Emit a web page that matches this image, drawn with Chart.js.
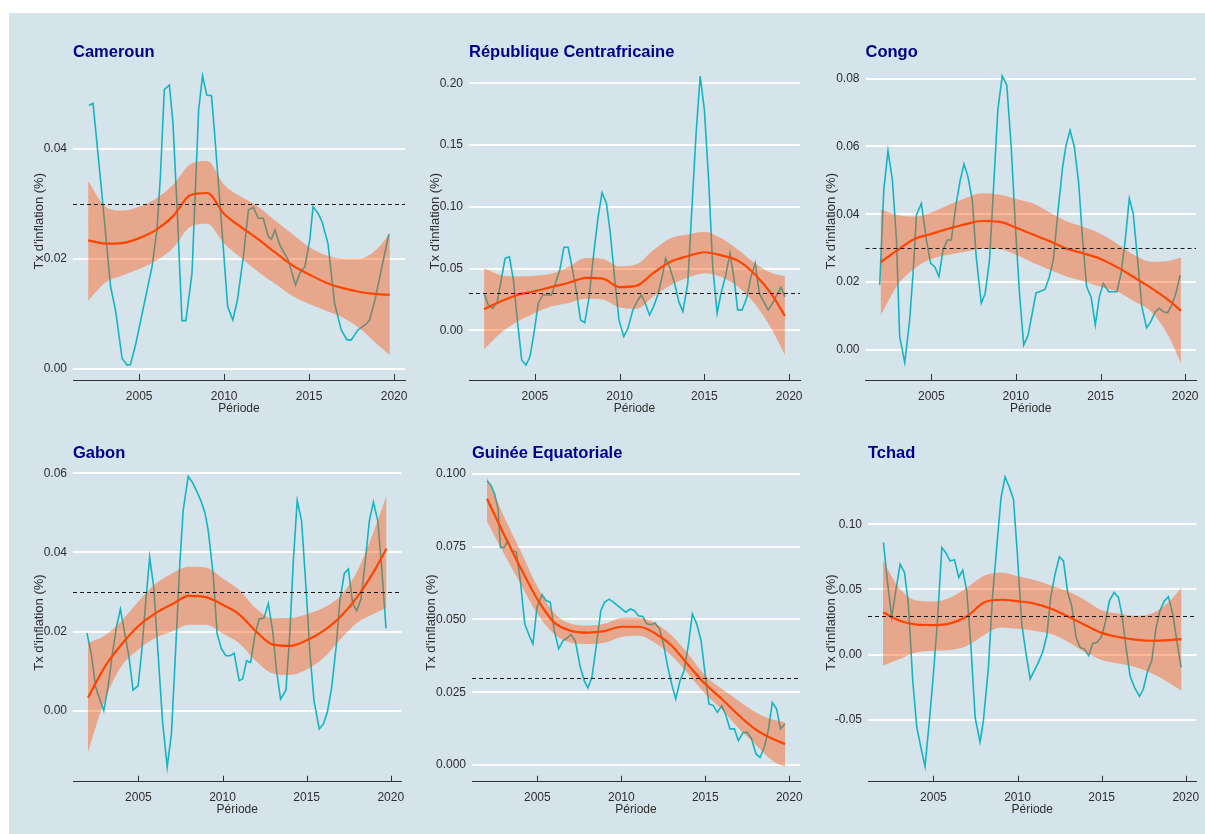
<!DOCTYPE html>
<html lang="fr">
<head>
<meta charset="utf-8">
<title>Taux d'inflation - CEMAC</title>
<script src="https://cdn.jsdelivr.net/npm/chart.js@4.4.1/dist/chart.umd.min.js"></script>
<style>
  html, body { margin: 0; padding: 0; background: #fff; overflow: hidden; width: 1205px; height: 834px; }
  #fond { position: absolute; left: 9px; top: 13px; width: 1196px; height: 821px; background: #d5e3ea; }
  canvas { position: absolute; }
</style>
</head>
<body>
<div id="fond"></div>
<canvas id="c1"></canvas>
<canvas id="c2"></canvas>
<canvas id="c3"></canvas>
<canvas id="c4"></canvas>
<canvas id="c5"></canvas>
<canvas id="c6"></canvas>
<script>
// --- données ---
const titres = ['Cameroun', 'République Centrafricaine', 'Congo', 'Gabon', 'Guinée Equatoriale', 'Tchad'];
const seuil = 0.03;
const xTicks = [2005, 2010, 2015, 2020];

// grille de la courbe lissée (loess) et de son intervalle
const annees = [2002, 2003, 2004, 2005, 2006, 2007, 2008, 2009, 2010, 2011, 2012, 2013, 2014, 2015, 2016, 2017, 2018, 2019, 2019.75];

// Cameroun
const cmrObs = [[2002.05,0.0479],[2002.29,0.0483],[2002.73,0.0344],[2003.32,0.0150],[2003.61,0.0107],[2004.00,0.0019],[2004.30,0.0007],[2004.49,0.0008],[2004.79,0.0044],[2005.47,0.0144],[2005.76,0.0186],[2006.05,0.0253],[2006.25,0.0350],[2006.48,0.0508],[2006.78,0.0516],[2006.99,0.0447],[2007.23,0.0295],[2007.52,0.0088],[2007.75,0.0088],[2008.11,0.0174],[2008.50,0.0471],[2008.73,0.0533],[2008.98,0.0498],[2009.26,0.0497],[2009.47,0.0416],[2009.77,0.0295],[2010.21,0.0113],[2010.51,0.0089],[2010.78,0.0125],[2011.13,0.0204],[2011.43,0.0289],[2011.72,0.0294],[2012.01,0.0274],[2012.30,0.0274],[2012.60,0.0241],[2012.79,0.0236],[2012.99,0.0253],[2013.28,0.0225],[2013.77,0.0198],[2014.20,0.0153],[2014.45,0.0174],[2014.75,0.0186],[2015.04,0.0235],[2015.23,0.0295],[2015.53,0.0283],[2015.78,0.0266],[2016.11,0.0228],[2016.50,0.0119],[2016.89,0.0071],[2017.23,0.0053],[2017.48,0.0053],[2017.87,0.0071],[2018.36,0.0082],[2018.55,0.0089],[2018.85,0.0122],[2019.24,0.0180],[2019.69,0.0245]];
const cmrFit = [0.0234,0.0228,0.0229,0.0238,0.0253,0.0278,0.0316,0.0320,0.0282,0.0258,0.0236,0.0212,0.0189,0.0172,0.0157,0.0147,0.0140,0.0136,0.0135];
const cmrHi  = [0.0342,0.0296,0.0288,0.0295,0.0310,0.0335,0.0372,0.0378,0.0335,0.0313,0.0295,0.0270,0.0246,0.0222,0.0207,0.0201,0.0201,0.0218,0.0247];
const cmrLo  = [0.0124,0.0157,0.0170,0.0182,0.0197,0.0220,0.0258,0.0264,0.0228,0.0202,0.0177,0.0155,0.0133,0.0118,0.0106,0.0093,0.0073,0.0045,0.0025];
const cmrYTicks = ['0.00', '0.02', '0.04'];

// République Centrafricaine
const rcaObs = [[2002.0,0.0300],[2002.25,0.0205],[2002.51,0.0178],[2002.78,0.0232],[2003.24,0.0583],[2003.49,0.0596],[2003.73,0.0408],[2003.96,0.0084],[2004.22,-0.0240],[2004.47,-0.0281],[2004.71,-0.0213],[2004.94,-0.0024],[2005.20,0.0219],[2005.45,0.0286],[2005.69,0.0286],[2005.98,0.0286],[2006.27,0.0408],[2006.47,0.0489],[2006.71,0.0672],[2006.96,0.0672],[2007.22,0.0489],[2007.45,0.0313],[2007.69,0.0084],[2007.94,0.0062],[2008.20,0.0273],[2008.47,0.0623],[2008.73,0.0920],[2008.96,0.1115],[2009.22,0.1028],[2009.45,0.0785],[2009.71,0.0408],[2009.96,0.0084],[2010.24,-0.0051],[2010.49,0.0016],[2010.78,0.0165],[2011.02,0.0232],[2011.27,0.0286],[2011.51,0.0219],[2011.76,0.0124],[2012.00,0.0192],[2012.25,0.0286],[2012.55,0.0462],[2012.71,0.0583],[2012.94,0.0516],[2013.24,0.0381],[2013.49,0.0232],[2013.73,0.0151],[2014.02,0.0381],[2014.31,0.1109],[2014.51,0.1595],[2014.75,0.2059],[2015.00,0.1784],[2015.25,0.1217],[2015.49,0.0516],[2015.75,0.0138],[2015.98,0.0300],[2016.24,0.0435],[2016.51,0.0623],[2016.76,0.0408],[2016.96,0.0165],[2017.22,0.0165],[2017.49,0.0259],[2017.75,0.0435],[2018.00,0.0543],[2018.24,0.0300],[2018.49,0.0232],[2018.76,0.0165],[2019.02,0.0219],[2019.27,0.0286],[2019.51,0.0348],[2019.75,0.0273]];
const rcaFit = [0.0170,0.0235,0.0288,0.0316,0.0352,0.0385,0.0425,0.0418,0.0350,0.0362,0.0465,0.0555,0.0600,0.0632,0.0607,0.0562,0.0450,0.0284,0.0116];
const rcaHi  = [0.0502,0.0446,0.0436,0.0441,0.0460,0.0515,0.0585,0.0578,0.0518,0.0535,0.0650,0.0745,0.0775,0.0798,0.0745,0.0650,0.0540,0.0462,0.0440];
const rcaLo  = [-0.0154,-0.0020,0.0073,0.0141,0.0194,0.0222,0.0256,0.0250,0.0185,0.0175,0.0275,0.0365,0.0425,0.0462,0.0432,0.0350,0.0210,0.0000,-0.0200];
const rcaYTicks = ['0.00', '0.05', '0.10', '0.15', '0.20'];

// Congo
const cogObs = [[2001.95,0.0191],[2002.19,0.0471],[2002.44,0.0587],[2002.70,0.0501],[2002.94,0.0324],[2003.13,0.0038],[2003.43,-0.0038],[2003.72,0.0088],[2003.92,0.0225],[2004.12,0.0398],[2004.41,0.0432],[2004.71,0.0324],[2004.96,0.0255],[2005.20,0.0245],[2005.45,0.0216],[2005.69,0.0294],[2005.94,0.0324],[2006.18,0.0324],[2006.47,0.0432],[2006.71,0.0501],[2006.93,0.0548],[2007.16,0.0511],[2007.42,0.0442],[2007.65,0.0275],[2007.95,0.0137],[2008.18,0.0166],[2008.44,0.0265],[2008.68,0.0481],[2008.93,0.0708],[2009.19,0.0808],[2009.46,0.0781],[2009.72,0.0599],[2009.97,0.0363],[2010.21,0.0166],[2010.46,0.0014],[2010.72,0.0043],[2010.96,0.0107],[2011.19,0.0168],[2011.49,0.0173],[2011.72,0.0178],[2011.98,0.0216],[2012.21,0.0265],[2012.47,0.0402],[2012.76,0.0540],[2012.96,0.0604],[2013.20,0.0648],[2013.45,0.0599],[2013.71,0.0491],[2013.94,0.0324],[2014.18,0.0186],[2014.44,0.0156],[2014.69,0.0073],[2014.93,0.0156],[2015.16,0.0196],[2015.48,0.0171],[2015.71,0.0171],[2015.97,0.0171],[2016.21,0.0225],[2016.46,0.0324],[2016.70,0.0447],[2016.93,0.0402],[2017.19,0.0265],[2017.44,0.0127],[2017.72,0.0065],[2017.97,0.0083],[2018.23,0.0112],[2018.47,0.0122],[2018.72,0.0112],[2018.96,0.0109],[2019.21,0.0132],[2019.45,0.0166],[2019.70,0.0220]];
const cogFit = [0.0258,0.0294,0.0327,0.0342,0.0357,0.0370,0.0380,0.0378,0.0360,0.0340,0.0320,0.0298,0.0284,0.0268,0.0243,0.0213,0.0182,0.0147,0.0115];
const cogHi  = [0.0414,0.0398,0.0393,0.0405,0.0427,0.0447,0.0462,0.0458,0.0445,0.0432,0.0405,0.0379,0.0362,0.0342,0.0312,0.0279,0.0260,0.0262,0.0272];
const cogLo  = [0.0100,0.0190,0.0240,0.0268,0.0280,0.0289,0.0298,0.0297,0.0280,0.0257,0.0236,0.0216,0.0202,0.0186,0.0171,0.0142,0.0112,0.0042,-0.0040];
const cogYTicks = ['0.00', '0.02', '0.04', '0.06', '0.08'];

// Gabon
const gabObs = [[2001.94,0.0196],[2002.20,0.0143],[2002.46,0.0059],[2002.70,0.0029],[2002.94,0.0000],[2003.19,0.0059],[2003.45,0.0143],[2003.69,0.0211],[2003.93,0.0257],[2004.19,0.0194],[2004.44,0.0135],[2004.68,0.0052],[2004.98,0.0063],[2005.18,0.0143],[2005.44,0.0278],[2005.67,0.0388],[2005.91,0.0312],[2006.17,0.0143],[2006.43,-0.0025],[2006.71,-0.0142],[2006.96,-0.0059],[2007.22,0.0160],[2007.46,0.0371],[2007.66,0.0506],[2007.96,0.0592],[2008.21,0.0577],[2008.45,0.0556],[2008.71,0.0531],[2008.95,0.0501],[2009.15,0.0455],[2009.44,0.0345],[2009.68,0.0194],[2009.94,0.0156],[2010.20,0.0139],[2010.44,0.0139],[2010.69,0.0145],[2010.99,0.0076],[2011.19,0.0080],[2011.43,0.0126],[2011.67,0.0122],[2011.92,0.0190],[2012.18,0.0232],[2012.46,0.0234],[2012.72,0.0271],[2012.98,0.0202],[2013.21,0.0101],[2013.45,0.0029],[2013.77,0.0052],[2014.01,0.0202],[2014.21,0.0379],[2014.44,0.0531],[2014.70,0.0480],[2014.96,0.0312],[2015.20,0.0143],[2015.44,0.0025],[2015.75,-0.0046],[2015.99,-0.0034],[2016.23,-0.0004],[2016.49,0.0059],[2016.75,0.0160],[2016.98,0.0278],[2017.24,0.0347],[2017.48,0.0358],[2017.74,0.0270],[2017.98,0.0253],[2018.23,0.0282],[2018.47,0.0371],[2018.73,0.0480],[2018.97,0.0527],[2019.23,0.0480],[2019.46,0.0362],[2019.72,0.0208]];
const gabFit = [0.0033,0.0111,0.0168,0.0214,0.0246,0.0269,0.0290,0.0287,0.0268,0.0243,0.0200,0.0167,0.0164,0.0178,0.0202,0.0237,0.0287,0.0352,0.0410];
const gabHi  = [0.0171,0.0190,0.0227,0.0276,0.0320,0.0347,0.0364,0.0362,0.0335,0.0305,0.0258,0.0233,0.0234,0.0244,0.0260,0.0290,0.0352,0.0455,0.0543];
const gabLo  = [-0.0105,0.0027,0.0113,0.0155,0.0184,0.0200,0.0217,0.0217,0.0195,0.0170,0.0125,0.0094,0.0090,0.0104,0.0133,0.0180,0.0222,0.0245,0.0261];
const gabYTicks = ['0.00', '0.02', '0.04', '0.06'];

// Guinée Equatoriale
const gnqObs = [[2002.01,0.0977],[2002.25,0.0960],[2002.46,0.0931],[2002.66,0.0880],[2002.80,0.0748],[2003.04,0.0748],[2003.24,0.0771],[2003.49,0.0737],[2003.75,0.0731],[2003.99,0.0633],[2004.25,0.0485],[2004.52,0.0444],[2004.74,0.0416],[2004.98,0.0542],[2005.28,0.0585],[2005.52,0.0565],[2005.77,0.0559],[2006.01,0.0462],[2006.27,0.0399],[2006.53,0.0427],[2006.76,0.0436],[2007.00,0.0448],[2007.26,0.0427],[2007.56,0.0336],[2007.79,0.0290],[2008.01,0.0265],[2008.25,0.0301],[2008.55,0.0427],[2008.78,0.0530],[2009.00,0.0559],[2009.28,0.0570],[2009.54,0.0559],[2009.78,0.0548],[2010.03,0.0536],[2010.27,0.0525],[2010.53,0.0536],[2010.79,0.0530],[2011.02,0.0513],[2011.28,0.0510],[2011.52,0.0485],[2011.78,0.0482],[2012.01,0.0488],[2012.27,0.0467],[2012.51,0.0416],[2012.77,0.0336],[2013.00,0.0278],[2013.24,0.0227],[2013.50,0.0290],[2013.74,0.0324],[2014.00,0.0416],[2014.23,0.0519],[2014.49,0.0485],[2014.75,0.0427],[2014.99,0.0313],[2015.22,0.0210],[2015.48,0.0204],[2015.72,0.0181],[2015.98,0.0204],[2016.23,0.0170],[2016.47,0.0124],[2016.73,0.0124],[2016.97,0.0084],[2017.26,0.0112],[2017.50,0.0112],[2017.76,0.0089],[2018.02,0.0038],[2018.26,0.0026],[2018.51,0.0061],[2018.75,0.0118],[2018.99,0.0215],[2019.25,0.0192],[2019.48,0.0124],[2019.74,0.0141]];
const gnqFit = [0.0915,0.0794,0.0678,0.0570,0.0490,0.0461,0.0455,0.0460,0.0475,0.0475,0.0453,0.0410,0.0343,0.0278,0.0226,0.0170,0.0122,0.0090,0.0072];
const gnqHi  = [0.0988,0.0856,0.0736,0.0613,0.0523,0.0485,0.0479,0.0485,0.0505,0.0506,0.0488,0.0445,0.0380,0.0307,0.0261,0.0220,0.0181,0.0156,0.0147];
const gnqLo  = [0.0837,0.0728,0.0622,0.0520,0.0450,0.0420,0.0416,0.0420,0.0440,0.0444,0.0420,0.0375,0.0312,0.0244,0.0190,0.0125,0.0070,0.0015,-0.0006];
const gnqYTicks = ['0.000', '0.025', '0.050', '0.075', '0.100'];

// Tchad
const tcdObs = [[2002.03,0.0860],[2002.27,0.0554],[2002.52,0.0286],[2002.76,0.0490],[2003.02,0.0694],[2003.28,0.0630],[2003.51,0.0388],[2003.77,-0.0199],[2004.01,-0.0556],[2004.25,-0.0709],[2004.50,-0.0857],[2004.76,-0.0505],[2005.00,-0.0148],[2005.24,0.0260],[2005.50,0.0821],[2005.73,0.0783],[2005.99,0.0719],[2006.25,0.0727],[2006.51,0.0592],[2006.74,0.0648],[2006.98,0.0490],[2007.22,0.0082],[2007.48,-0.0480],[2007.77,-0.0671],[2007.97,-0.0505],[2008.27,-0.0097],[2008.51,0.0439],[2008.76,0.0821],[2009.02,0.1204],[2009.26,0.1362],[2009.52,0.1281],[2009.76,0.1191],[2009.99,0.0770],[2010.25,0.0235],[2010.51,0.0005],[2010.75,-0.0186],[2011.00,-0.0122],[2011.24,-0.0059],[2011.50,0.0023],[2011.74,0.0145],[2011.97,0.0439],[2012.23,0.0617],[2012.49,0.0750],[2012.73,0.0719],[2012.98,0.0477],[2013.22,0.0375],[2013.48,0.0133],[2013.72,0.0056],[2013.98,0.0043],[2014.23,-0.0008],[2014.47,0.0087],[2014.71,0.0094],[2014.97,0.0133],[2015.20,0.0235],[2015.46,0.0413],[2015.74,0.0477],[2016.00,0.0439],[2016.20,0.0311],[2016.45,0.0056],[2016.69,-0.0161],[2016.95,-0.0250],[2017.25,-0.0319],[2017.48,-0.0263],[2017.74,-0.0122],[2017.98,-0.0046],[2018.24,0.0209],[2018.47,0.0337],[2018.73,0.0413],[2018.97,0.0444],[2019.23,0.0311],[2019.47,0.0107],[2019.72,-0.0097]];
const tcdFit = [0.0325,0.0260,0.0230,0.0227,0.0240,0.0295,0.0400,0.0421,0.0410,0.0392,0.0352,0.0293,0.0228,0.0167,0.0136,0.0116,0.0107,0.0112,0.0120];
const tcdHi  = [0.0720,0.0505,0.0415,0.0408,0.0437,0.0515,0.0605,0.0630,0.0602,0.0573,0.0531,0.0486,0.0420,0.0340,0.0315,0.0298,0.0315,0.0405,0.0515];
const tcdLo  = [-0.0084,-0.0033,0.0018,0.0031,0.0036,0.0069,0.0150,0.0208,0.0198,0.0184,0.0158,0.0100,0.0020,-0.0040,-0.0068,-0.0095,-0.0145,-0.0215,-0.0276];
const tcdYTicks = ['-0.05', '0.00', '0.05', '0.10'];

// --- mise en page des six panneaux ---
Chart.defaults.font.family = '"Liberation Sans", Arial, Helvetica, sans-serif';

const rangees = [
  { cy: 13, ch: 407, tc: 52.5, B: 380 },
  { cy: 420, ch: 414, tc: 453.5, B: 781.7 }
];

const panneaux = [
  { id: 'c1', titre: titres[0], obs: cmrObs, fit: cmrFit, hi: cmrHi, lo: cmrLo, yTicks: cmrYTicks, r: 0, cx: 9,   L: 73,    R: 405,    yt: 39.2,  yMin: -0.002,   yMax: 0.05575 },
  { id: 'c2', titre: titres[1], obs: rcaObs, fit: rcaFit, hi: rcaHi, lo: rcaLo, yTicks: rcaYTicks, r: 0, cx: 415, L: 469,   R: 800,    yt: 435.5, yMin: -0.04024, yMax: 0.21692 },
  { id: 'c3', titre: titres[2], obs: cogObs, fit: cogFit, hi: cogHi, lo: cogLo, yTicks: cogYTicks, r: 0, cx: 810, L: 865.5, R: 1196,   yt: 831.2, yMin: -0.00894, yMax: 0.08481 },
  { id: 'c4', titre: titres[3], obs: gabObs, fit: gabFit, hi: gabHi, lo: gabLo, yTicks: gabYTicks, r: 1, cx: 9,   L: 73,    R: 401.5,  yt: 39.5,  yMin: -0.01794, yMax: 0.0625 },
  { id: 'c5', titre: titres[4], obs: gnqObs, fit: gnqFit, hi: gnqHi, lo: gnqLo, yTicks: gnqYTicks, r: 1, cx: 415, L: 472,   R: 800,    yt: 431,   yMin: -0.00574, yMax: 0.10364 },
  { id: 'c6', titre: titres[5], obs: tcdObs, fit: tcdFit, hi: tcdHi, lo: tcdLo, yTicks: tcdYTicks, r: 1, cx: 810, L: 868,   R: 1196.5, yt: 831,   yMin: -0.09734, yMax: 0.14662 }
];

// ligne pointillée horizontale au seuil de 3 %
const ligneSeuil = {
  id: 'ligneSeuil',
  afterDatasetsDraw(chart) {
    const { ctx, chartArea: a, scales: { y } } = chart;
    const py = Math.round(y.getPixelForValue(seuil)) + 0.5;
    ctx.save();
    ctx.strokeStyle = '#1a1a1a';
    ctx.lineWidth = 1;
    ctx.setLineDash([4, 3]);
    ctx.beginPath();
    ctx.moveTo(a.left, py);
    ctx.lineTo(a.right, py);
    ctx.stroke();
    ctx.restore();
  }
};

// petites graduations de l'axe x, tournées vers l'intérieur
const graduations = {
  id: 'graduations',
  afterDraw(chart) {
    const { ctx, chartArea: a, scales: { x } } = chart;
    ctx.save();
    ctx.strokeStyle = '#333';
    ctx.lineWidth = 1;
    ctx.beginPath();
    x.ticks.forEach(t => {
      const px = Math.round(x.getPixelForValue(t.value)) + 0.5;
      ctx.moveTo(px, a.bottom);
      ctx.lineTo(px, a.bottom - 6);
    });
    ctx.stroke();
    ctx.restore();
  }
};

function panneau(p) {
  const rg = rangees[p.r];
  const cv = document.getElementById(p.id);
  const w = Math.round(p.R + 20 - p.cx);
  cv.width = w;
  cv.height = rg.ch;
  cv.style.left = p.cx + 'px';
  cv.style.top = rg.cy + 'px';

  const yLeft = p.yt - 7.8;
  const pad = {
    left: yLeft - p.cx,
    right: w - (p.R - p.cx),
    top: rg.tc - 9.9 - rg.cy,
    bottom: rg.cy + rg.ch - rg.B - 35.5
  };
  const yWidth = p.L - yLeft;

  const xy = a => a.map(d => ({ x: d[0], y: d[1] }));
  const lisse = a => a.map((v, i) => ({ x: annees[i], y: v }));
  const yVals = p.yTicks.map(Number);

  new Chart(cv, {
    type: 'line',
    data: {
      datasets: [
        { data: xy(p.obs), borderColor: '#12b5c3', borderWidth: 1.6, pointRadius: 0, tension: 0, fill: false, order: 4 },
        { data: lisse(p.lo), borderColor: 'rgba(0,0,0,0)', borderWidth: 0, pointRadius: 0, cubicInterpolationMode: 'monotone', fill: false, order: 3 },
        { data: lisse(p.hi), borderColor: 'rgba(0,0,0,0)', borderWidth: 0, pointRadius: 0, cubicInterpolationMode: 'monotone', fill: '-1', backgroundColor: 'rgba(255,78,0,0.4)', order: 2 },
        { data: lisse(p.fit), borderColor: '#ff4500', borderWidth: 2.2, pointRadius: 0, cubicInterpolationMode: 'monotone', fill: false, order: 1 }
      ]
    },
    options: {
      responsive: false,
      animation: false,
      events: [],
      layout: { padding: pad },
      plugins: {
        legend: { display: false },
        tooltip: { enabled: false },
        title: {
          display: true, text: p.titre, align: 'start', fullSize: false,
          color: '#00008b', font: { size: 16.5, weight: 'bold' }, padding: { top: 0, bottom: 0 }
        }
      },
      scales: {
        x: {
          type: 'linear', min: 2001.11, max: 2020.64,
          afterFit: s => { s.height = 35.5; },
          afterBuildTicks: s => { s.ticks = xTicks.map(v => ({ value: v })); },
          grid: { display: true, drawOnChartArea: false, drawTicks: false },
          border: { display: true, color: '#333', width: 1 },
          ticks: { color: '#2e2e2e', font: { size: 12 }, padding: 9, autoSkip: false, maxRotation: 0, callback: v => String(v) },
          title: { display: true, text: 'Période', color: '#2e2e2e', font: { size: 12 }, padding: 0 }
        },
        y: {
          type: 'linear', min: p.yMin, max: p.yMax,
          afterFit: s => { s.width = yWidth; },
          afterBuildTicks: s => { s.ticks = yVals.map(v => ({ value: v })); },
          grid: { color: '#ffffff', lineWidth: 2, drawTicks: false },
          border: { display: false },
          ticks: { color: '#2e2e2e', font: { size: 12 }, padding: 6, autoSkip: false, callback: (v, i) => p.yTicks[i] },
          title: { display: true, text: "Tx d'inflation (%)", color: '#2e2e2e', font: { size: 13 }, padding: 0 }
        }
      }
    },
    plugins: [ligneSeuil, graduations]
  });
}

panneaux.forEach(panneau);
</script>
</body>
</html>
